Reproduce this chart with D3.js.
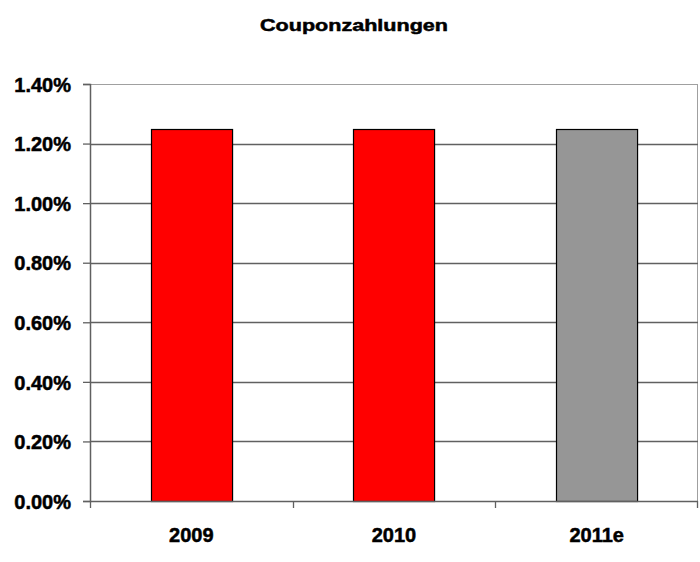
<!DOCTYPE html>
<html>
<head>
<meta charset="utf-8">
<script src="https://cdn.jsdelivr.net/npm/d3@7"></script>
<style>
  body { margin: 0; background: #fff; }
  text { font-family: "Liberation Sans", Arial, sans-serif; font-weight: bold; fill: #000; stroke: #000; stroke-width: 0.5px; }
</style>
</head>
<body>
<div id="wrapper"></div>
<script>
// data
const years = ["2009", "2010", "2011e"]
const coupons = [1.25, 1.25, 1.25]
const barColors = ["#ff0000", "#ff0000", "#969696"]
const yTicks = [0, 0.2, 0.4, 0.6, 0.8, 1.0, 1.2, 1.4]
const title = "Couponzahlungen"

const data = years.map((year, i) => ({year, value: coupons[i], color: barColors[i]}))

// dimensions
let dimensions = {
  width: 700,
  height: 562,
  margin: {top: 84, right: 2, bottom: 61, left: 90},
}
dimensions.boundedWidth = dimensions.width - dimensions.margin.left - dimensions.margin.right
dimensions.boundedHeight = dimensions.height - dimensions.margin.top - dimensions.margin.bottom

const wrapper = d3.select("#wrapper")
  .append("svg")
    .attr("width", dimensions.width)
    .attr("height", dimensions.height)

const bounds = wrapper.append("g")
    .attr("transform", `translate(${dimensions.margin.left},${dimensions.margin.top})`)

// scales
const xScale = d3.scaleBand()
  .domain(years)
  .range([0, dimensions.boundedWidth])
  .paddingInner(0.6)
  .paddingOuter(0.3)

const bandStep = d3.scaleBand().domain(years).range([0, dimensions.boundedWidth])

const yScale = d3.scaleLinear()
  .domain([0, 1.4])
  .range([dimensions.boundedHeight, 0])

// plot area border (light gray)
bounds.append("rect")
  .attr("x", 0.5)
  .attr("y", 0.5)
  .attr("width", dimensions.boundedWidth - 1)
  .attr("height", dimensions.boundedHeight)
  .attr("fill", "none")
  .attr("stroke", "#a0a0a0")
  .attr("stroke-width", 1)

// gridlines
bounds.append("g")
  .selectAll("line")
  .data(yTicks.filter(d => d > 0 && d < 1.4))
  .join("line")
    .attr("x1", 0)
    .attr("x2", dimensions.boundedWidth)
    .attr("y1", d => Math.round(yScale(d)) + 0.5)
    .attr("y2", d => Math.round(yScale(d)) + 0.5)
    .attr("stroke", "#606060")
    .attr("stroke-width", 1.3)

// bars
bounds.append("g")
  .selectAll("rect")
  .data(data)
  .join("rect")
    .attr("x", d => Math.round(xScale(d.year)) + 0.5)
    .attr("y", d => Math.round(yScale(d.value)) + 0.5)
    .attr("width", xScale.bandwidth())
    .attr("height", d => Math.round(yScale(0)) - Math.round(yScale(d.value)))
    .attr("fill", d => d.color)
    .attr("stroke", "#000")
    .attr("stroke-width", 1.2)

// y axis
const yAxis = d3.axisLeft(yScale)
  .tickValues(yTicks)
  .tickSize(7)
  .tickPadding(12)
  .tickFormat(d => d3.format(".2f")(d) + "%")

const yAxisG = bounds.append("g").call(yAxis)
yAxisG.select(".domain").attr("stroke", "#606060").attr("stroke-width", 1.5)
yAxisG.selectAll(".tick line").attr("stroke", "#606060").attr("stroke-width", 1.3)
yAxisG.selectAll("text")
  .attr("font-size", 20)
  .attr("font-family", null)
  .attr("fill", null)
  .attr("dy", "0.36em")

// x axis with ticks at category boundaries
const xAxisG = bounds.append("g")
  .attr("transform", `translate(0,${dimensions.boundedHeight})`)

xAxisG.append("line")
  .attr("x1", 0)
  .attr("x2", dimensions.boundedWidth)
  .attr("y1", 0.5)
  .attr("y2", 0.5)
  .attr("stroke", "#606060")
  .attr("stroke-width", 1.5)

const boundaries = years.map(y => bandStep(y)).concat([dimensions.boundedWidth])
xAxisG.selectAll(".bt")
  .data(boundaries)
  .join("line")
    .attr("class", "bt")
    .attr("x1", d => Math.min(Math.round(d), dimensions.boundedWidth - 1) + 0.5)
    .attr("x2", d => Math.min(Math.round(d), dimensions.boundedWidth - 1) + 0.5)
    .attr("y1", 0)
    .attr("y2", 7)
    .attr("stroke", "#606060")
    .attr("stroke-width", 1.3)

xAxisG.selectAll(".lbl")
  .data(years)
  .join("text")
    .attr("class", "lbl")
    .attr("x", d => bandStep(d) + bandStep.bandwidth() / 2)
    .attr("y", 41)
    .attr("text-anchor", "middle")
    .attr("font-size", 20)
    .text(d => d)

// title
wrapper.append("text")
  .attr("x", 354)
  .attr("y", 31)
  .attr("text-anchor", "middle")
  .attr("font-size", 17)
  .attr("textLength", 188)
  .attr("lengthAdjust", "spacingAndGlyphs")
  .text(title)
</script>
</body>
</html>
